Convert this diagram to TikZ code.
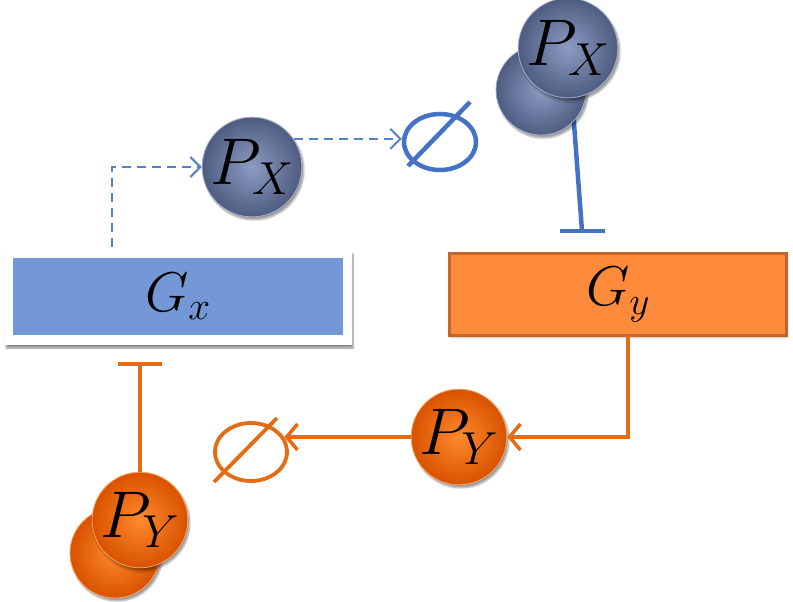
\RequirePackage{fix-cm}
\documentclass[tikz,border=0pt]{standalone}
\usetikzlibrary{shapes.geometric,arrows.meta,shadows.blur}
\definecolor{gxfill}{HTML}{7498D6}
\definecolor{gyfill}{HTML}{FD8B3B}
\definecolor{gyedge}{HTML}{C4652C}
\definecolor{bline}{HTML}{4472C4}
\definecolor{oline}{HTML}{E46C14}
\definecolor{pxlight}{HTML}{8D9BC2}
\definecolor{pxdark}{HTML}{4F5C82}
\definecolor{pylight}{HTML}{FF8A2E}
\definecolor{pydark}{HTML}{D85200}
\tikzset{
  bigtext/.style={font=\fontsize{66}{70}\selectfont},
  gtext/.style={font=\fontsize{56}{60}\selectfont},
  pxball/.style={circle, minimum size=90pt, inner sep=0pt, draw=pxlight!80!white, line width=0.8pt,
    inner color=pxlight, outer color=pxdark, bigtext,
    blur shadow={shadow xshift=2pt, shadow yshift=-3pt, shadow blur steps=6, shadow opacity=40}},
  pyball/.style={circle, minimum size=90pt, inner sep=0pt, draw=pylight!80!white, line width=0.8pt,
    inner color=pylight, outer color=pydark, bigtext,
    blur shadow={shadow xshift=2pt, shadow yshift=-3pt, shadow blur steps=6, shadow opacity=40}},
  emptyset/.style={ellipse, draw, inner sep=0pt},
  bluedash/.style={draw=bline!90!white, line width=2pt, dash pattern=on 9pt off 6pt,
    -{Straight Barb[length=10pt,width=20pt,line width=2pt]}},
  blueinh/.style={draw=bline, line width=4.5pt},
  oarrow/.style={draw=oline, line width=3.5pt, -{Straight Barb[length=11pt,width=26pt,line width=3.5pt]}},
  oinh/.style={draw=oline, line width=3.5pt},
}
\begin{document}
\begin{tikzpicture}[x=1pt,y=-1pt]
\useasboundingbox (0,0) rectangle (793,602);

% Gx box
\node[fill=white, minimum width=347pt, minimum height=94pt, inner sep=0pt,
  blur shadow={shadow xshift=1pt, shadow yshift=-3pt, shadow blur steps=6, shadow opacity=45}] (gxo) at (178.5,298) {};
\node[fill=gxfill, minimum width=330pt, minimum height=77pt, inner sep=0pt, gtext] (gx) at (178,296.5) {$G_x$};

% Gy box
\node[fill=gyfill, draw=gyedge, line width=3pt, minimum width=337pt, minimum height=82pt, inner sep=0pt, gtext,
  blur shadow={shadow xshift=1pt, shadow yshift=-2pt, shadow blur steps=5, shadow opacity=30}] (gy) at (618,294.5) {$G_y$};

% middle Px
\node[pxball] (px) at (252,167) {$P_X$};
% empty set (blue)
\node[emptyset, draw=bline, line width=4.5pt, minimum width=72pt, minimum height=56pt] (ex) at (440,142) {};
\draw[bline, line width=4.5pt] (ex.center) ++(-32,24) coordinate (exa) -- (470,102) coordinate (exb);

% dashed connectors
\coordinate (gxs) at (112,247);
\draw[bluedash] (gxs) |- (px.west);
\draw[bluedash] (px.34) -- (px.34 -| ex.west);

% top-right Px stack
\coordinate (ib) at (582,231);
\coordinate (ibl) at (560,231);
\coordinate (ibr) at (605,231);
\draw[blueinh] (573,110) coordinate (ia) -- (ib);
\draw[blueinh] (ibl) -- (ibr);
\node[pxball] (pxb) at (541,90) {};
\node[pxball] (px2) at (568,48) {$P_X$};

% middle Py
\node[pyball] (py) at (459,437) {$P_Y$};
\coordinate (gyo) at (628,336);
\draw[oarrow] (gyo) |- (py.east);

% empty set (orange)
\node[emptyset, draw=oline, line width=3.8pt, minimum width=72pt, minimum height=58pt] (eo) at (251,452) {};
\draw[oline, line width=3.8pt] (eo.center) ++(-37,30) coordinate (eoa) -- (277,418) coordinate (eob);
\draw[oarrow] (py.west) -- (py.west -| eo.24);

% bottom-left Py stack
\node[pyball] (pyb) at (115,553) {};
\node[pyball] (pyf) at (140,520) {$P_Y$};
\coordinate (obc) at (140,364);
\coordinate (obl) at (118,364);
\coordinate (obr) at (162,364);
\draw[oinh] (pyf.north) -- (obc);
\draw[oinh] (obl) -- (obr);
\end{tikzpicture}
\end{document}
